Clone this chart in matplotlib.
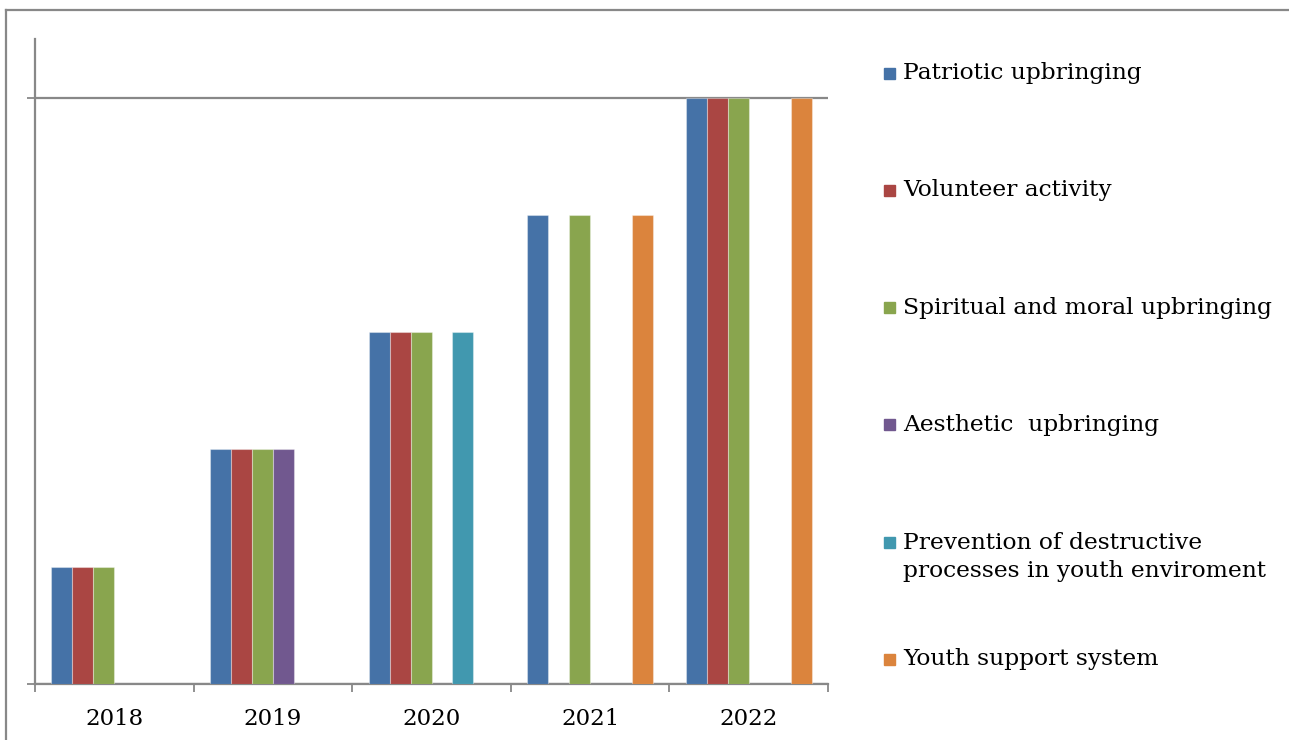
import matplotlib.pyplot as plt
import numpy as np
from matplotlib.lines import Line2D
from matplotlib.patches import Rectangle

years = ['2018', '2019', '2020', '2021', '2022']
series = [
    'Patriotic upbringing',
    'Volunteer activity',
    'Spiritual and moral upbringing',
    'Aesthetic  upbringing',
    'Prevention of destructive\nprocesses in youth enviroment',
    'Youth support system',
]
colors = ['#4572A7', '#AA4643', '#89A54E', '#71588F', '#4198AF', '#DB843D']
patriotic = [1, 2, 3, 4, 5]
volunteer = [1, 2, 3, 0, 5]
spiritual = [1, 2, 3, 4, 5]
aesthetic = [0, 2, 0, 0, 0]
prevention = [0, 0, 3, 0, 0]
youth_support = [0, 0, 0, 4, 5]
values = [patriotic, volunteer, spiritual, aesthetic, prevention, youth_support]

W, H = 1289, 740
plt.rcParams['font.family'] = ['DejaVu Serif']
axis_grey = '#888888'

fig = plt.figure(figsize=(W / 100, H / 100), dpi=100)
ax = fig.add_axes([35 / W, 56 / H, (828 - 35) / W, (684 - 39) / H])

x = np.arange(len(years))
w = 0.1324
for j, (vals, c) in enumerate(zip(values, colors)):
    v = np.array(vals, float)
    keep = v > 0
    ax.bar(x[keep] + (j - 2.5) * w, v[keep], width=w, color=c,
           edgecolor=(1, 1, 1, 0.35), linewidth=0.8, zorder=3)

ax.set_xlim(-0.5, len(years) - 0.5)
ax.set_ylim(0, 5.5)
ax.set_yticks([0, 5])
ax.set_yticklabels([])
ax.yaxis.grid(True, color=axis_grey, linewidth=1.6)
ax.tick_params(axis='y', length=6, width=1.3, color=axis_grey)

ax.set_xticks(x)
ax.set_xticklabels(years, fontsize=16.5)
ax.tick_params(axis='x', which='major', length=0, pad=17)
ax.set_xticks(np.arange(len(years) + 1) - 0.5, minor=True)
ax.tick_params(axis='x', which='minor', length=6, width=1.3, color=axis_grey)

for s in ['top', 'right']:
    ax.spines[s].set_visible(False)
for s in ['left', 'bottom']:
    ax.spines[s].set_color(axis_grey)
    ax.spines[s].set_linewidth(1.6)
ax.spines['left'].set_zorder(4)

# legend entries down the right-hand side
line_h = 30
for i, (name, c) in enumerate(zip(series, colors)):
    y_first = 73 + i * 117.3
    n = name.count('\n') + 1
    fig.add_artist(Rectangle((884 / W, 1 - (y_first + 5.5) / H), 11 / W, 11 / H,
                             transform=fig.transFigure, color=c))
    fig.text(903 / W, 1 - (y_first + (n - 1) * line_h / 2) / H, name,
             fontsize=16.8, va='center', ha='left', linespacing=1.38)

# outer frame along the top and left edges
fig.add_artist(Line2D([6 / W, 6 / W], [0, 1 - 10 / H], transform=fig.transFigure,
                      color=axis_grey, linewidth=1.6))
fig.add_artist(Line2D([6 / W, 1], [1 - 10 / H, 1 - 10 / H], transform=fig.transFigure,
                      color=axis_grey, linewidth=1.6))

fig.savefig('out.png', dpi=100)
